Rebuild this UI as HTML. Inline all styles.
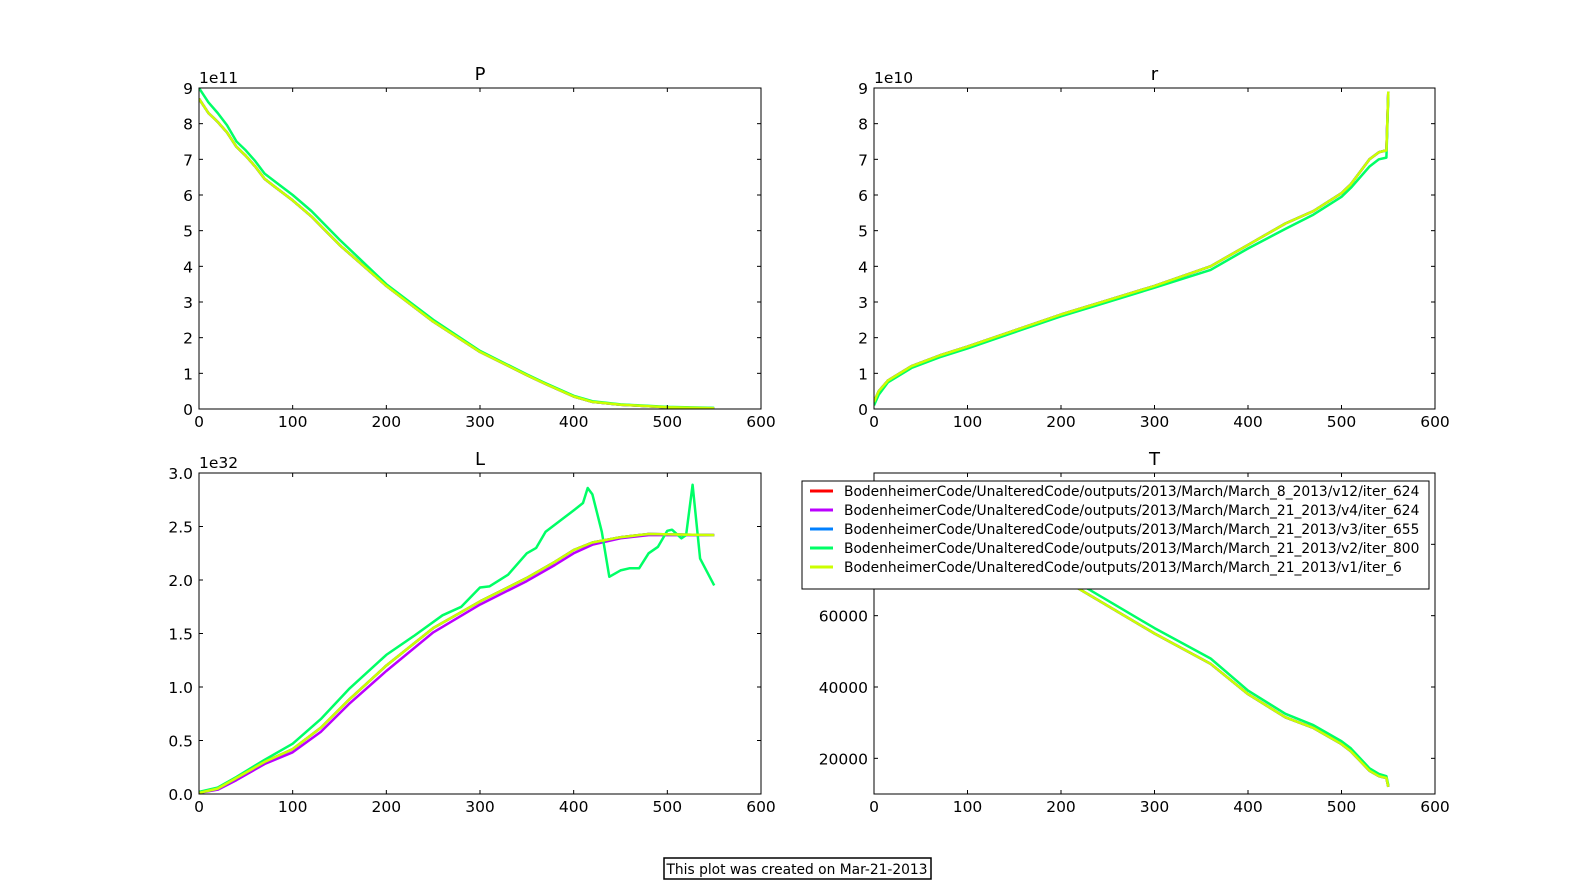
<!DOCTYPE html>
<html><head><meta charset="utf-8"><style>
body{margin:0;background:#fff;width:1595px;height:882px;overflow:hidden;font-family:"DejaVu Sans",sans-serif}
svg text{font-family:"DejaVu Sans","Liberation Sans",sans-serif}
</style></head><body>
<svg id="fig" width="1595" height="882" xmlns="http://www.w3.org/2000/svg"></svg>
<script>
const colors=['#ff0000','#bb00ff','#0080ff','#00ff66','#ccff00'];
const names=['BodenheimerCode/UnalteredCode/outputs/2013/March/March_8_2013/v12/iter_624','BodenheimerCode/UnalteredCode/outputs/2013/March/March_21_2013/v4/iter_624','BodenheimerCode/UnalteredCode/outputs/2013/March/March_21_2013/v3/iter_655','BodenheimerCode/UnalteredCode/outputs/2013/March/March_21_2013/v2/iter_800','BodenheimerCode/UnalteredCode/outputs/2013/March/March_21_2013/v1/iter_6'];
const xTicks=[0,100,200,300,400,500,600];
// P (1e11)
const pX=[0,10,20,30,40,50,60,70,80,100,120,150,200,250,300,350,370,400,420,450,500,550];
const pMain=[8.7,8.3,8.05,7.75,7.35,7.1,6.8,6.45,6.25,5.85,5.4,4.6,3.45,2.45,1.6,0.95,0.7,0.35,0.2,0.12,0.05,0.02];
const pGreen=[9.0,8.6,8.3,7.95,7.5,7.25,6.95,6.6,6.4,6.0,5.55,4.75,3.5,2.5,1.63,0.97,0.72,0.37,0.22,0.13,0.06,0.03];
// r (1e10)
const rX=[0,5,15,40,70,100,150,200,250,300,360,400,440,470,500,510,530,540,548,550];
const rMain=[0.2,0.5,0.8,1.2,1.5,1.75,2.2,2.65,3.05,3.45,4.0,4.6,5.2,5.55,6.05,6.3,7.0,7.2,7.25,8.9];
const rGreen=[0.1,0.4,0.75,1.15,1.45,1.7,2.15,2.6,3.0,3.4,3.9,4.5,5.05,5.45,5.95,6.2,6.8,7.0,7.05,8.8];
// L (1e32)
const lX=[0,20,40,70,100,130,160,200,250,300,350,380,400,420,450,480,550];
const lMain=[0.01,0.05,0.15,0.3,0.42,0.62,0.88,1.2,1.55,1.8,2.02,2.17,2.28,2.35,2.4,2.43,2.42];
const lPurple=[0.01,0.04,0.13,0.28,0.39,0.58,0.84,1.15,1.51,1.77,1.99,2.14,2.25,2.33,2.39,2.42,2.42];
const lGX=[0,20,40,70,100,130,160,200,230,260,280,300,310,330,350,360,370,400,410,415,420,430,438,450,460,470,480,490,500,505,515,520,527,535,550];
const lGreen=[0.02,0.06,0.16,0.32,0.47,0.7,0.98,1.3,1.48,1.67,1.75,1.93,1.94,2.05,2.25,2.3,2.45,2.65,2.72,2.86,2.8,2.45,2.03,2.09,2.11,2.11,2.25,2.31,2.46,2.47,2.39,2.42,2.89,2.2,1.95];
// T
const tX=[0,100,180,200,300,360,400,440,470,500,510,530,540,548,550];
const tMain=[95000,84000,74000,70500,55000,46500,38000,31500,28500,24000,22000,16500,15000,14500,12000];
const tGreen=[96000,85500,75500,72000,56500,48000,39000,32500,29300,24800,22800,17200,15600,15000,12500];

const NS='http://www.w3.org/2000/svg';
const svg=document.getElementById('fig');
function el(t,a,p){const e=document.createElementNS(NS,t);for(const k in a)e.setAttribute(k,a[k]);(p||svg).appendChild(e);return e;}

function panel(cfg){
  const g=el('g',{});
  
  
  const {x0,x1,y0,y1,ymin,ymax}=cfg;
  const sx=v=>x0+(v-0)/600*(x1-x0);
  const sy=v=>y1-(v-ymin)/(ymax-ymin)*(y1-y0);
  const clip='c'+cfg.name;
  const cp=el('clipPath',{id:clip},g);el('rect',{x:x0,y:y0,width:x1-x0,height:y1-y0},cp);
  const lg=el('g',{'clip-path':'url(#'+clip+')'},g);
  cfg.series.forEach(s=>{
    const pts=s.x.map((xv,i)=>sx(xv).toFixed(1)+','+sy(s.y[i]).toFixed(1)).join(' ');
    const pl=el('polyline',{points:pts,fill:'none',stroke:s.c,'stroke-width':2.5,'stroke-linejoin':'round'},lg);
    
    
  });
  const fr=el('rect',{x:x0,y:y0,width:x1-x0,height:y1-y0,fill:'none',stroke:'#000','stroke-width':1},g);
  
  
  xTicks.forEach(t=>{
    const x=sx(t);
    el('line',{x1:x,x2:x,y1:y1,y2:y1-4,stroke:'#000'},g);
    el('line',{x1:x,x2:x,y1:y0,y2:y0+4,stroke:'#000'},g);
    const tx=el('text',{x:x,y:y1+18,'text-anchor':'middle','font-size':15.5},g);
    tx.textContent=t;
    
    
  });
  cfg.yTicks.forEach((t,i)=>{
    const y=sy(t);
    el('line',{x1:x0,x2:x0+4,y1:y,y2:y,stroke:'#000'},g);
    el('line',{x1:x1,x2:x1-4,y1:y,y2:y,stroke:'#000'},g);
    const tx=el('text',{x:x0-6,y:y+6,'text-anchor':'end','font-size':15.5},g);
    tx.textContent=cfg.yLabels[i];
    
    
  });
  if(cfg.exp){const e=el('text',{x:x0,y:y0-5,'font-size':15.5},g);e.textContent=cfg.exp;
    
    }
  const ti=el('text',{x:(x0+x1)/2,y:y0-8,'text-anchor':'middle','font-size':18},g);
  ti.textContent=cfg.title;
  
  
}
function five(xs,main,alt,green){return [
 {x:xs,y:main,c:colors[0],n:'line-v12'},{x:xs,y:alt||main,c:colors[1],n:'line-v4'},
 {x:xs,y:main,c:colors[2],n:'line-v3'},{x:green.x,y:green.y,c:colors[3],n:'line-v2'},
 {x:xs,y:main,c:colors[4],n:'line-v1'}];}
const y9=[0,1,2,3,4,5,6,7,8,9];
panel({name:'panel-p',x0:199,x1:761,y0:88,y1:409,ymin:0,ymax:9,yTicks:y9,yLabels:y9.map(String),exp:'1e11',title:'P',
  series:five(pX,pMain,null,{x:pX,y:pGreen})});
panel({name:'panel-r',x0:874,x1:1435,y0:88,y1:409,ymin:0,ymax:9,yTicks:y9,yLabels:y9.map(String),exp:'1e10',title:'r',
  series:five(rX,rMain,null,{x:rX,y:rGreen})});
const lT=[0,0.5,1,1.5,2,2.5,3];
panel({name:'panel-l',x0:199,x1:761,y0:473,y1:794,ymin:0,ymax:3,yTicks:lT,yLabels:lT.map(v=>v.toFixed(1)),exp:'1e32',title:'L',
  series:five(lX,lMain,lPurple,{x:lGX,y:lGreen})});
const tT=[20000,40000,60000,80000];
panel({name:'panel-t',x0:874,x1:1435,y0:473,y1:794,ymin:10000,ymax:100000,yTicks:tT,yLabels:tT.map(String),title:'T',
  series:five(tX,tMain,null,{x:tX,y:tGreen})});

// legend
const lgd=el('g',{});


el('rect',{x:802,y:481,width:627,height:108,fill:'#fff',stroke:'#000','stroke-width':1},lgd);
names.forEach((n,i)=>{
  const y=491+i*19;
  const ln=el('line',{x1:810,x2:833,y1:y,y2:y,stroke:colors[i],'stroke-width':3},lgd);
  
  
  const t=el('text',{x:844,y:y+5,'font-size':13.8},lgd);
  t.textContent=n;
  
  
});
// footer
const fg=el('g',{});


el('rect',{x:664,y:858,width:267,height:21,fill:'#fff',stroke:'#000','stroke-width':1.5},fg);
const ft=el('text',{x:797,y:874,'text-anchor':'middle','font-size':13.8},fg);
ft.textContent='This plot was created on Mar-21-2013';
</script>
</body></html>
